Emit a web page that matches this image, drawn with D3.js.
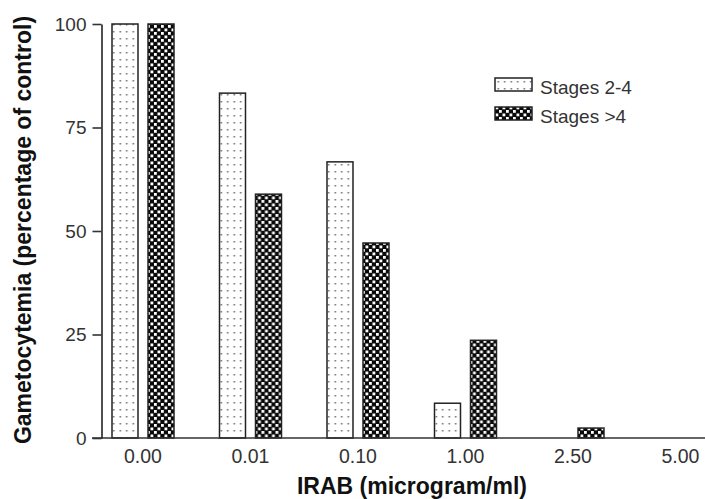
<!DOCTYPE html>
<html>
<head>
<meta charset="utf-8">
<script src="https://cdn.jsdelivr.net/npm/d3@7"></script>
<style>
body { margin: 0; background: #fff; }
text { font-family: "Liberation Sans", Arial, sans-serif; }
</style>
</head>
<body>
<svg width="705" height="499"></svg>
<script>
// concentrations of IRAB
const doses = ['0.00', '0.01', '0.10', '1.00', '2.50', '5.00'];
const seriesNames = ['Stages 2-4', 'Stages >4'];
const early = [100, 83.3, 66.7, 8.4, 0, 0];   // stages 2-4
const late = [100, 58.9, 47.1, 23.6, 2.4, 0]; // stages >4
const yTicks = [0, 25, 50, 75, 100];

const svg = d3.select('svg');

// patterns for the two fills
const defs = svg.append('defs');
const dots = defs.append('pattern').attr('id', 'dots')
    .attr('patternUnits', 'userSpaceOnUse').attr('width', 6.5).attr('height', 7);
dots.append('rect').attr('width', 6.5).attr('height', 7).attr('fill', '#fff');
dots.append('rect').attr('x', 2.5).attr('y', 3).attr('width', 1.5).attr('height', 1.5).attr('fill', '#666');

const checks = defs.append('pattern').attr('id', 'checks')
    .attr('patternUnits', 'userSpaceOnUse').attr('width', 7).attr('height', 7);
checks.append('rect').attr('width', 7).attr('height', 7).attr('fill', '#0a0a0a');
checks.append('rect').attr('x', 0.5).attr('y', 0.5).attr('width', 2.8).attr('height', 2.8).attr('fill', '#fff');
checks.append('rect').attr('x', 4).attr('y', 4).attr('width', 2.8).attr('height', 2.8).attr('fill', '#fff');

const fills = ['url(#dots)', 'url(#checks)'];

const x = d3.scaleBand().domain(doses).range([89.25, 734.25]).padding(0);
const inner = d3.scaleBand().domain([0, 1]).range([-31, 31]).paddingInner(0.278);
const y = d3.scaleLinear().domain([0, 100]).range([438, 24]);

const rows = doses.map((d, i) => [early[i], late[i]]);

// bars
const groups = svg.selectAll('g.grp').data(rows).enter().append('g')
    .attr('class', 'grp')
    .attr('transform', (d, i) => `translate(${x(doses[i]) + x.bandwidth() / 2},0)`);
groups.selectAll('rect').data(d => d.map((v, j) => ({v, j}))).enter().append('rect')
    .attr('x', d => inner(d.j))
    .attr('width', inner.bandwidth())
    .attr('y', d => y(d.v))
    .attr('height', d => y(0) - y(d.v))
    .attr('fill', d => fills[d.j])
    .attr('stroke', '#222')
    .attr('stroke-width', 1.5);

// x baseline
svg.append('line').attr('x1', 92).attr('x2', 705).attr('y1', y(0)).attr('y2', y(0))
    .attr('stroke', '#333').attr('stroke-width', 1.6);

// x labels
svg.selectAll('text.xl').data(doses).enter().append('text')
    .attr('class', 'xl')
    .attr('x', d => x(d) + x.bandwidth() / 2)
    .attr('y', 463)
    .attr('text-anchor', 'middle')
    .attr('font-size', 19.5)
    .attr('fill', '#333')
    .text(d => d);

// y axis
const yAxis = svg.append('g').attr('transform', 'translate(101.5,0)')
    .call(d3.axisLeft(y).tickValues(yTicks).tickSize(9).tickPadding(6).tickSizeOuter(0));
yAxis.select('.domain').attr('stroke', '#222').attr('stroke-width', 1.6);
yAxis.selectAll('.tick line').attr('stroke', '#333').attr('stroke-width', 1.6);
yAxis.selectAll('.tick text').attr('font-size', 19).attr('fill', '#333')
    .attr('font-family', '"Liberation Sans", Arial, sans-serif');

// axis titles
svg.append('text').attr('x', 412).attr('y', 494).attr('text-anchor', 'middle')
    .attr('font-size', 23).attr('font-weight', 'bold').attr('fill', '#111')
    .text('IRAB (microgram/ml)');
svg.append('text').attr('transform', 'translate(31,230) rotate(-90)')
    .attr('text-anchor', 'middle')
    .attr('font-size', 23).attr('font-weight', 'bold').attr('fill', '#111')
    .text('Gametocytemia (percentage of control)');

// legend
const legend = svg.append('g').attr('transform', 'translate(495,78)');
seriesNames.forEach((name, i) => {
    legend.append('rect').attr('x', 0).attr('y', i * 29).attr('width', 37).attr('height', 13)
        .attr('fill', fills[i]).attr('stroke', '#222').attr('stroke-width', 1.5);
    legend.append('text').attr('x', 45).attr('y', i * 29 + 16)
        .attr('font-size', 19).attr('fill', '#333').text(name);
});
</script>
</body>
</html>
